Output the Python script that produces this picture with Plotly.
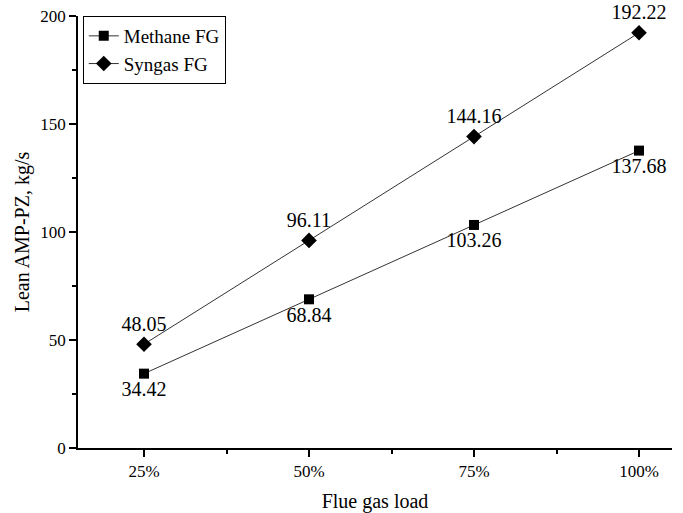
import plotly.graph_objects as go

loads = [25, 50, 75, 100]
tick_labels = ["25%", "50%", "75%", "100%"]
methane = [34.42, 68.84, 103.26, 137.68]
syngas = [48.05, 96.11, 144.16, 192.22]

font = "Liberation Serif"

fig = go.Figure()
fig.add_trace(go.Scatter(
    x=loads, y=methane, name="Methane FG", mode="lines+markers+text",
    line=dict(color="#333333", width=1),
    marker=dict(symbol="square", size=10, color="black"),
    text=[f"{v:.2f}" for v in methane], textposition="bottom center",
    textfont=dict(family=font, size=20, color="black"),
    cliponaxis=False,
))
fig.add_trace(go.Scatter(
    x=loads, y=syngas, name="Syngas FG", mode="lines+markers+text",
    line=dict(color="#333333", width=1),
    marker=dict(symbol="diamond", size=12, color="black"),
    text=[f"{v:.2f}" for v in syngas], textposition="top center",
    textfont=dict(family=font, size=20, color="black"),
    cliponaxis=False,
))

fig.update_layout(
    width=683, height=513,
    margin=dict(l=78, r=11, t=16, b=65),
    paper_bgcolor="white", plot_bgcolor="white",
    font=dict(family=font, color="black"),
    showlegend=True,
    legend=dict(x=0.008, y=1.0, xanchor="left", yanchor="top",
                bordercolor="black", borderwidth=1, bgcolor="white",
                font=dict(family=font, size=19), tracegroupgap=0),
    xaxis=dict(
        range=[15, 105], tickvals=loads, ticktext=tick_labels,
        showline=True, linecolor="black", linewidth=1.5, mirror=False,
        ticks="outside", ticklen=7, tickwidth=1.5, tickcolor="black",
        showgrid=False, zeroline=False, automargin=False,
        tickfont=dict(family=font, size=17),
        minor=dict(tickvals=[37.5, 62.5, 87.5], ticks="outside", ticklen=4, tickwidth=1.5, tickcolor="black"),
        title=dict(text="Flue gas load", font=dict(family=font, size=20), standoff=14),
    ),
    yaxis=dict(
        range=[0, 200], tickvals=[0, 50, 100, 150, 200],
        showline=True, linecolor="black", linewidth=1.5, mirror=False,
        ticks="outside", ticklen=7, tickwidth=1.5, tickcolor="black",
        showgrid=False, zeroline=False, automargin=False,
        tickfont=dict(family=font, size=17),
        minor=dict(tickvals=[25, 75, 125, 175], ticks="outside", ticklen=4, tickwidth=1.5, tickcolor="black"),
        title=dict(text="Lean AMP-PZ, kg/s", font=dict(family=font, size=20), standoff=5),
    ),
)

fig.write_html("out.html", config={"displayModeBar": False},
               post_script="document.body.style.margin='0';document.body.style.overflow='hidden';")
